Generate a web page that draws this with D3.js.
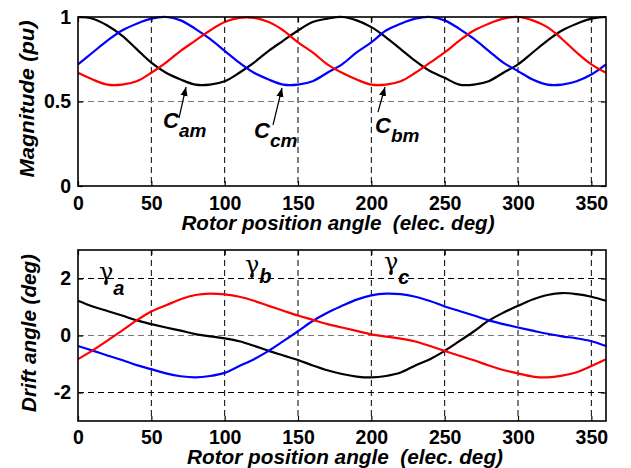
<!DOCTYPE html>
<html><head><meta charset="utf-8">
<script src="https://cdn.jsdelivr.net/npm/d3@7"></script>
<style>
html,body{margin:0;padding:0;background:#fff;}
svg{display:block;}
text{font-family:"Liberation Sans",Arial,sans-serif;}
</style></head>
<body>
<svg id="chart" width="631" height="468"></svg>
<script>
// ---------- data ----------
const angles = d3.range(0, 361, 10);            // rotor position (elec. deg)
const xTicks = [0, 50, 100, 150, 200, 250, 300, 350];
const magTicks = [0, 0.5, 1];
const driftTicks = [-2, 0, 2];

// Magnitude (pu)
const Cam = [1.00,0.99,0.95,0.89,0.81,0.73,0.67,0.63,0.60,0.60,0.62,0.67,0.73,0.80,0.86,0.92,0.97,0.99,1.00,
             0.98,0.94,0.88,0.81,0.74,0.68,0.64,0.60,0.60,0.62,0.67,0.72,0.79,0.86,0.92,0.96,0.99,1.00];
const Cbm = [0.67,0.63,0.60,0.60,0.62,0.67,0.73,0.80,0.86,0.92,0.97,0.995,0.995,0.97,0.92,0.85,0.79,0.72,0.67,
             0.63,0.60,0.60,0.62,0.67,0.73,0.79,0.86,0.92,0.96,0.99,1.00,0.98,0.94,0.87,0.79,0.72,0.67];
const Ccm = [0.72,0.79,0.86,0.92,0.96,0.99,1.00,0.98,0.93,0.87,0.80,0.73,0.67,0.63,0.60,0.60,0.62,0.67,0.72,
             0.79,0.85,0.92,0.96,0.99,1.00,0.98,0.93,0.87,0.80,0.73,0.68,0.63,0.60,0.60,0.62,0.66,0.72];

// Drift angle (deg)
const gammaA = [1.22,1.02,0.86,0.70,0.53,0.40,0.28,0.17,0.05,-0.03,-0.10,-0.20,-0.36,-0.54,-0.70,-0.86,-1.05,-1.22,-1.35,
                -1.44,-1.47,-1.42,-1.30,-1.05,-0.83,-0.54,-0.20,0.15,0.52,0.80,1.04,1.26,1.42,1.49,1.45,1.36,1.22];
const gammaB = [-0.83,-0.52,-0.18,0.17,0.53,0.84,1.06,1.27,1.42,1.47,1.44,1.36,1.22,1.04,0.87,0.70,0.55,0.40,0.28,
                0.16,0.04,-0.04,-0.11,-0.21,-0.37,-0.54,-0.71,-0.87,-1.05,-1.21,-1.33,-1.44,-1.47,-1.41,-1.29,-1.07,-0.83];
const gammaC = [-0.37,-0.53,-0.70,-0.86,-1.04,-1.18,-1.33,-1.43,-1.47,-1.42,-1.31,-1.07,-0.83,-0.54,-0.20,0.15,0.51,0.80,1.04,
                1.26,1.41,1.47,1.45,1.36,1.21,1.02,0.86,0.70,0.53,0.40,0.28,0.17,0.06,-0.03,-0.10,-0.20,-0.37];

// ---------- drawing ----------
const svg = d3.select("#chart");
const L = 78, R = 606;
const x = d3.scaleLinear().domain([0, 360]).range([L, R]);

function panel(cfg) {
  const y = d3.scaleLinear().domain(cfg.ydom).range([cfg.bottom, cfg.top]);
  const g = svg.append("g");
  // grid
  g.selectAll(".vg").data(xTicks.filter(d => d > 0)).join("line")
    .attr("x1", d => x(d)).attr("x2", d => x(d))
    .attr("y1", cfg.top).attr("y2", cfg.bottom)
    .attr("stroke", "#000").attr("stroke-width", 1).attr("stroke-dasharray", "6,4");
  g.selectAll(".hg").data(cfg.grid).join("line")
    .attr("x1", L).attr("x2", R)
    .attr("y1", d => y(d.v)).attr("y2", d => y(d.v))
    .attr("stroke", d => d.c).attr("stroke-width", 1.2).attr("stroke-dasharray", "6,4");
  // lines
  const line = d3.line().x((d, i) => x(angles[i])).y(d => y(d)).curve(d3.curveCatmullRom);
  cfg.series.forEach(s => {
    g.append("path").datum(s.v).attr("d", line)
      .attr("fill", "none").attr("stroke", s.c).attr("stroke-width", 2.2);
  });
  // axes
  const fmt = d => String(d);
  g.append("g").attr("transform", `translate(0,${cfg.bottom})`)
    .call(d3.axisBottom(x).tickValues(xTicks).tickFormat(fmt).tickSizeInner(-5).tickSizeOuter(0).tickPadding(cfg.xpad));
  g.append("g").attr("transform", `translate(${L},0)`)
    .call(d3.axisLeft(y).tickValues(cfg.yticks).tickFormat(fmt).tickSizeInner(-5).tickSizeOuter(0).tickPadding(7));
  g.append("g").attr("transform", `translate(0,${cfg.top})`)
    .call(d3.axisTop(x).tickValues(xTicks).tickFormat("").tickSizeInner(-5).tickSizeOuter(0));
  g.append("g").attr("transform", `translate(${R},0)`)
    .call(d3.axisRight(y).tickValues(cfg.yticks).tickFormat("").tickSizeInner(-5).tickSizeOuter(0));
  g.selectAll(".domain").remove();
  g.selectAll(".tick line").attr("stroke", "#000").attr("stroke-width", 1.2);
  g.selectAll(".tick text").attr("font-size", 19.5).attr("font-weight", "bold")
    .attr("fill", "#000").attr("font-family", "Liberation Sans, Arial, sans-serif");
  // frame
  g.append("rect").attr("x", L).attr("y", cfg.top).attr("width", R - L).attr("height", cfg.bottom - cfg.top)
    .attr("fill", "none").attr("stroke", "#000").attr("stroke-width", 1.6);
  // titles
  g.append("text").attr("x", cfg.xtitle.x).attr("y", cfg.xtitle.y).attr("text-anchor", "middle")
    .attr("font-size", 19.5).attr("font-weight", "bold").attr("font-style", "italic")
    .attr("textLength", cfg.xtitle.w).attr("lengthAdjust", "spacingAndGlyphs")
    .style("white-space", "pre").text("Rotor position angle  (elec. deg)");
  g.append("text").attr("transform", `translate(${cfg.ytitle.x},${cfg.ytitle.y}) rotate(-90)`)
    .attr("text-anchor", "middle")
    .attr("font-size", 20).attr("font-weight", "bold").attr("font-style", "italic")
    .attr("textLength", cfg.ytitle.w).attr("lengthAdjust", "spacingAndGlyphs")
    .text(cfg.ytitle.t);
  return y;
}

panel({
  top: 17, bottom: 186, ydom: [0, 1], yticks: magTicks, xpad: 10,
  grid: [{v: 0.5, c: "#777"}],
  series: [{v: Cam, c: "#000"}, {v: Ccm, c: "#0000ff"}, {v: Cbm, c: "#ff0000"}],
  xtitle: {x: 338, y: 230, w: 313},
  ytitle: {x: 34, y: 99, w: 157, t: "Magnitude (pu)"}
});
panel({
  top: 250, bottom: 421, ydom: [-3, 3], yticks: driftTicks, xpad: 9,
  grid: [{v: 2, c: "#000"}, {v: 0, c: "#777"}, {v: -2, c: "#000"}],
  series: [{v: gammaA, c: "#000"}, {v: gammaC, c: "#0000ff"}, {v: gammaB, c: "#ff0000"}],
  xtitle: {x: 345, y: 464, w: 316},
  ytitle: {x: 36, y: 333, w: 158, t: "Drift angle (deg)"}
});

// arrow marker
svg.append("defs").append("marker").attr("id", "ah")
  .attr("viewBox", "0 0 10 10").attr("refX", 10).attr("refY", 5)
  .attr("markerWidth", 9).attr("markerHeight", 9).attr("markerUnits", "userSpaceOnUse")
  .attr("orient", "auto")
  .append("path").attr("d", "M0,1 L10,5 L0,9 Z").attr("fill", "#000");

// C labels
const cLabels = [
  {sub: "am", x: 163, y: 128, ax1: 179, ay1: 118, ax2: 186, ay2: 87},
  {sub: "cm", x: 254, y: 138, ax1: 273, ay1: 125, ax2: 282, ay2: 88},
  {sub: "bm", x: 375, y: 133, ax1: 378, ay1: 112, ax2: 385, ay2: 87}
];
cLabels.forEach(c => {
  const t = svg.append("text").attr("x", c.x).attr("y", c.y)
    .attr("font-size", 22).attr("font-weight", "bold").attr("font-style", "italic");
  t.append("tspan").text("C");
  t.append("tspan").attr("dy", 9).attr("font-size", 19).text(c.sub);
  svg.append("line").attr("x1", c.ax1).attr("y1", c.ay1).attr("x2", c.ax2).attr("y2", c.ay2)
    .attr("stroke", "#000").attr("stroke-width", 1.2).attr("marker-end", "url(#ah)");
});

// gamma labels (gamma + subscript in one text)
const gLabels = [
  {sub: "a", x: 99, y: 280, dy: 15},
  {sub: "b", x: 245, y: 273, dy: 10},
  {sub: "c", x: 384, y: 270, dy: 14}
];
gLabels.forEach(gl => {
  const t = svg.append("text").attr("transform", `translate(${gl.x},${gl.y})`);
  t.append("tspan").attr("font-family", "DejaVu Serif, serif").attr("font-size", 24)
    .attr("font-style", "normal").text("γ");
  t.append("tspan").attr("dx", 0).attr("dy", gl.dy)
    .attr("font-size", 20).attr("font-weight", "bold").attr("font-style", "italic").text(gl.sub);
});
</script>
</body></html>
